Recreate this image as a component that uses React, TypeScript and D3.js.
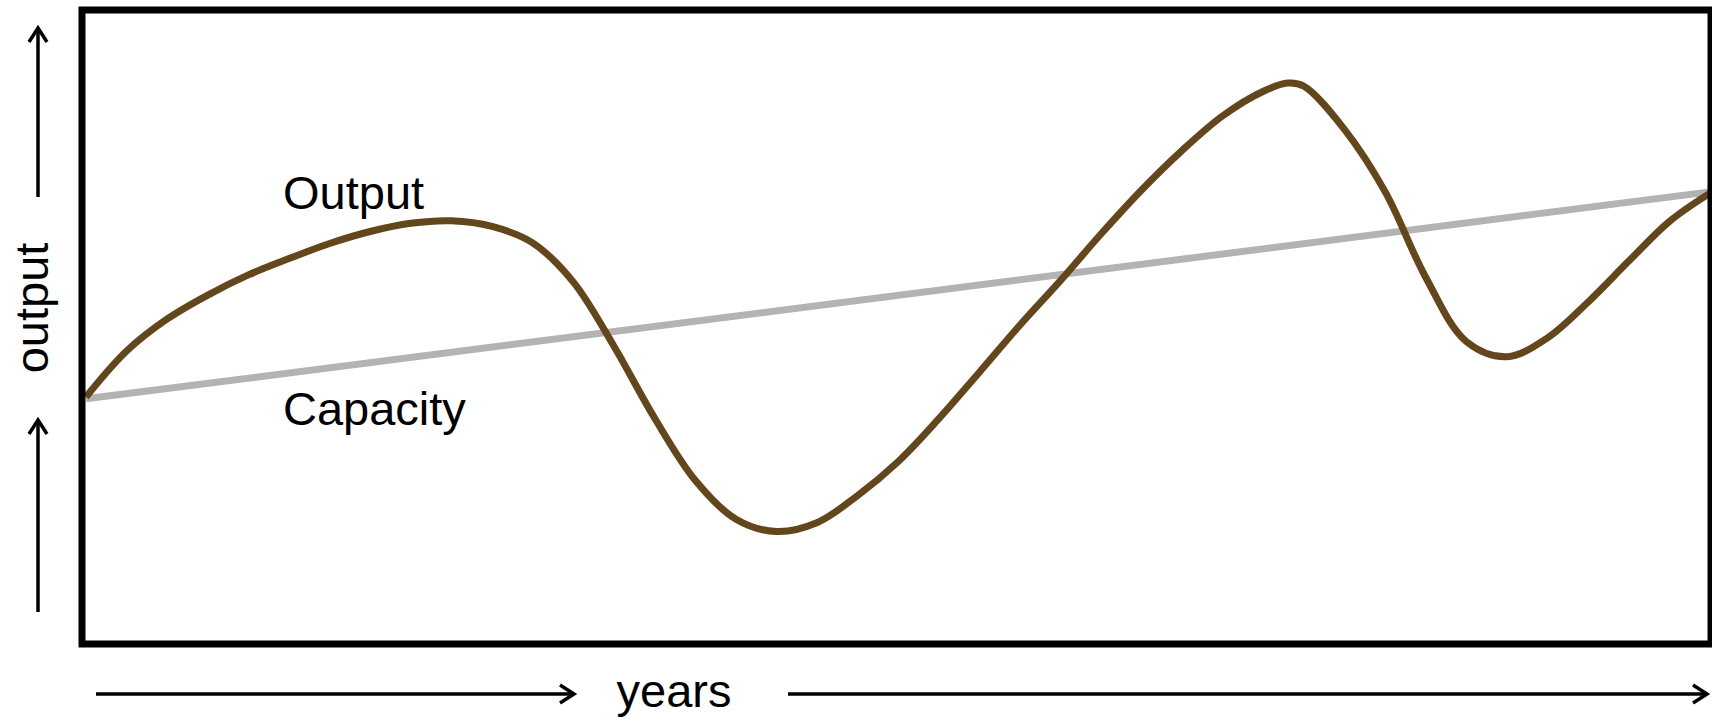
import React from "react";
import * as d3 from "d3";

// years (0..40) and output levels (0..100)
const outputYears = [0, 1, 2, 3, 4, 5, 6, 7, 8, 9, 10, 11, 12, 13, 14, 15, 16, 17, 18, 19, 20, 21, 22, 23, 24, 25, 26, 27, 28, 29, 29.6, 30, 31, 32, 33, 34, 35, 36, 37, 38, 39, 40];
const outputValues = [38.8, 46.1, 51.2, 55.0, 58.2, 60.8, 63.2, 65.1, 66.4, 66.8, 65.9, 63.3, 57.1, 46.9, 35.5, 25.6, 19.4, 17.4, 18.8, 23.1, 28.5, 35.3, 42.7, 50.2, 57.3, 64.7, 71.7, 78.0, 83.5, 87.4, 88.7, 88.2, 81.3, 71.4, 57.8, 47.6, 45.2, 48.2, 53.9, 60.4, 66.7, 71.2];
const capacityYears = [0, 40];
const capacityValues = [38.5, 71.4];

const seriesLabels = ["Output", "Capacity"];
const axisLabels = ["output", "years"];

const W = 1712;
const H = 721;
const box = { left: 82, right: 1711, top: 10, bottom: 644 };

export default function App() {
  const x = d3.scaleLinear().domain([0, 40]).range([86, 1710]);
  const y = d3.scaleLinear().domain([0, 100]).range([641, 12]);

  const line = d3
    .line<[number, number]>()
    .x((d) => x(d[0]))
    .y((d) => y(d[1]))
    .curve(d3.curveCatmullRom.alpha(0.5));

  const outPts: [number, number][] = outputYears.map((t, i) => [t, outputValues[i]]);
  const capPts: [number, number][] = capacityYears.map((t, i) => [t, capacityValues[i]]);

  const font = "'Liberation Sans', Arial, Helvetica, sans-serif";
  const ad = 14; // head depth
  const aw = 9; // head half-width
  const sw = 3.5;

  const arrowUp = (ax: number, y0: number, y1: number, key: string) => (
    <g key={key} stroke="#000" strokeWidth={sw} fill="none">
      <line x1={ax} y1={y0} x2={ax} y2={y1 + 1} />
      <polyline points={`${ax - aw},${y1 + ad} ${ax},${y1} ${ax + aw},${y1 + ad}`} strokeLinecap="butt" strokeLinejoin="miter" />
    </g>
  );
  const arrowRight = (ay: number, x0: number, x1: number, key: string) => (
    <g key={key} stroke="#000" strokeWidth={sw} fill="none">
      <line x1={x0} y1={ay} x2={x1 - 1} y2={ay} />
      <polyline points={`${x1 - ad},${ay - aw} ${x1},${ay} ${x1 - ad},${ay + aw}`} strokeLinecap="butt" strokeLinejoin="miter" />
    </g>
  );

  return (
    <svg
      width={W}
      height={H}
      style={{ position: "absolute", left: 0, top: 0, background: "#fff" }}
      fontFamily={font}
    >
      <rect x={0} y={0} width={W} height={H} fill="#fff" />
      <path d={line(capPts) || ""} fill="none" stroke="#b3b3b3" strokeWidth={7} />
      <path d={line(outPts) || ""} fill="none" stroke="#63461c" strokeWidth={7} />
      <rect
        x={box.left}
        y={box.top}
        width={box.right - box.left}
        height={box.bottom - box.top}
        fill="none"
        stroke="#000"
        strokeWidth={7}
      />
      <text x={283} y={209} fontSize={47} fill="#000">{seriesLabels[0]}</text>
      <text x={283} y={425} fontSize={47} fill="#000">{seriesLabels[1]}</text>
      <text transform="translate(48,308) rotate(-90)" textAnchor="middle" fontSize={47} fill="#000">{axisLabels[0]}</text>
      <text x={674} y={707} textAnchor="middle" fontSize={47} fill="#000">{axisLabels[1]}</text>
      {arrowUp(38, 612, 420, "a2")}
      {arrowUp(38, 197, 28, "a1")}
      {arrowRight(694, 96, 574, "a3")}
      {arrowRight(694, 788, 1707, "a4")}
    </svg>
  );
}
